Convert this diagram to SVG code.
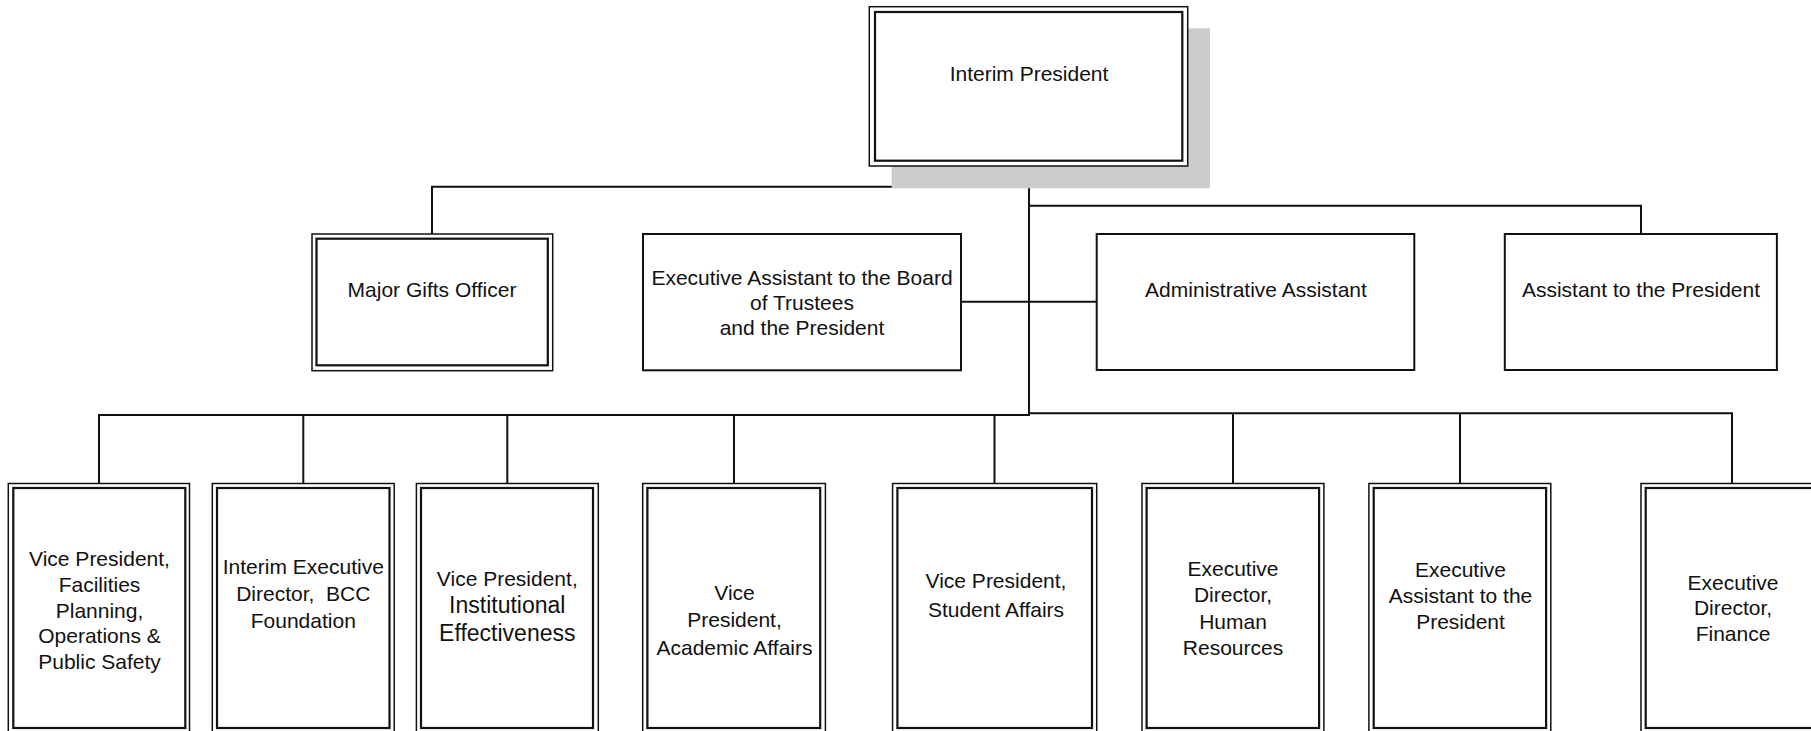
<svg xmlns="http://www.w3.org/2000/svg" width="1811" height="731" viewBox="0 0 1811 731">
<style>
  .bg{fill:#ffffff}
  .box{fill:#ffffff;stroke:#111;stroke-width:2}
  .outer{fill:#ffffff;stroke:#111;stroke-width:1.5}
  .inner{fill:none;stroke:#111;stroke-width:2.2}
  .shadow{fill:#cccccc}
  .conn{fill:none;stroke:#111;stroke-width:2}
  text{font-family:"Liberation Sans",Arial,sans-serif;font-size:21px;fill:#111;text-anchor:middle}
  .big{font-size:23px}
</style>
<rect class="bg" x="0" y="0" width="1811" height="731"/>

<g id="connectors">
  <path class="conn" d="M1029 166 V414"/>
  <path class="conn" d="M432 234 V186.7 H1029"/>
  <path class="conn" d="M1029 205.7 H1641 V234"/>
  <path class="conn" d="M961 301.7 H1096.7"/>
  <path class="conn" d="M99 483.5 V415 H1030"/>
  <path class="conn" d="M303.3 415 V483.5"/>
  <path class="conn" d="M507.3 415 V483.5"/>
  <path class="conn" d="M734 415 V483.5"/>
  <path class="conn" d="M994.5 415 V483.5"/>
  <path class="conn" d="M1029 413.3 H1732 V483.5"/>
  <path class="conn" d="M1233 413.3 V483.5"/>
  <path class="conn" d="M1460 413.3 V483.5"/>
</g>

<g id="interim-president">
  <rect class="shadow" x="891.7" y="28.3" width="318.3" height="160"/>
  <rect class="outer" x="869.3" y="6.7" width="318.4" height="159.3"/>
  <rect class="inner" x="875" y="12" width="307.3" height="148.7"/>
  <text x="1029" y="81">Interim President</text>
</g>

<g id="major-gifts-officer">
  <rect class="outer" x="312" y="234" width="240.7" height="136.7"/>
  <rect class="inner" x="316.5" y="238.7" width="231.3" height="126.6"/>
  <text x="432" y="297">Major Gifts Officer</text>
</g>

<g id="exec-assistant-board">
  <rect class="box" x="643" y="234" width="318" height="136.3"/>
  <text x="802" y="285">Executive Assistant to the Board</text>
  <text x="802" y="310">of Trustees</text>
  <text x="802" y="335">and the President</text>
</g>

<g id="administrative-assistant">
  <rect class="box" x="1096.7" y="234" width="317.6" height="136"/>
  <text x="1256" y="297">Administrative Assistant</text>
</g>

<g id="assistant-to-president">
  <rect class="box" x="1504.8" y="234" width="272.1" height="136"/>
  <text x="1641" y="297">Assistant to the President</text>
</g>

<g id="vp-facilities">
  <rect class="outer" x="8.3" y="483.5" width="181.2" height="252"/>
  <rect class="inner" x="13.3" y="488" width="172" height="240"/>
  <text x="99.5" y="565.7">Vice President,</text>
  <text x="99.5" y="591.7">Facilities</text>
  <text x="99.5" y="617.5">Planning,</text>
  <text x="99.5" y="643.3">Operations &amp;</text>
  <text x="99.5" y="669.3">Public Safety</text>
</g>

<g id="bcc-foundation">
  <rect class="outer" x="212.3" y="483.5" width="181.9" height="252"/>
  <rect class="inner" x="217" y="488" width="172.5" height="240"/>
  <text x="303.3" y="574.3">Interim Executive</text>
  <text x="303.3" y="601" style="white-space:pre">Director,  BCC</text>
  <text x="303.3" y="628">Foundation</text>
</g>

<g id="vp-institutional">
  <rect class="outer" x="416.4" y="483.5" width="181.9" height="252"/>
  <rect class="inner" x="421" y="488" width="172" height="240"/>
  <text x="507.3" y="586">Vice President,</text>
  <text class="big" x="507.3" y="613.3">Institutional</text>
  <text class="big" x="507.3" y="640.7">Effectiveness</text>
</g>

<g id="vp-academic">
  <rect class="outer" x="642.7" y="483.5" width="182.7" height="252"/>
  <rect class="inner" x="647.4" y="488" width="172.8" height="240"/>
  <text x="734.5" y="600">Vice</text>
  <text x="734.5" y="627">President,</text>
  <text x="734.5" y="654.5">Academic Affairs</text>
</g>

<g id="vp-student">
  <rect class="outer" x="892.6" y="483.5" width="204.1" height="252"/>
  <rect class="inner" x="897.4" y="488" width="194.6" height="240"/>
  <text x="996" y="588.3">Vice President,</text>
  <text x="996" y="616.7">Student Affairs</text>
</g>

<g id="ed-hr">
  <rect class="outer" x="1142" y="483.5" width="181.9" height="252"/>
  <rect class="inner" x="1146.6" y="488" width="172.5" height="240"/>
  <text x="1233" y="576">Executive</text>
  <text x="1233" y="602">Director,</text>
  <text x="1233" y="628.5">Human</text>
  <text x="1233" y="655">Resources</text>
</g>

<g id="exec-assistant-president">
  <rect class="outer" x="1368.9" y="483.5" width="181.9" height="252"/>
  <rect class="inner" x="1373.7" y="488" width="172.4" height="240"/>
  <text x="1460.5" y="576.7">Executive</text>
  <text x="1460.5" y="602.7">Assistant to the</text>
  <text x="1460.5" y="628.7">President</text>
</g>

<g id="ed-finance">
  <rect class="outer" x="1641" y="483.5" width="182" height="252"/>
  <rect class="inner" x="1645.7" y="488" width="172.3" height="240"/>
  <text x="1733" y="590">Executive</text>
  <text x="1733" y="615">Director,</text>
  <text x="1733" y="640.7">Finance</text>
</g>
</svg>
